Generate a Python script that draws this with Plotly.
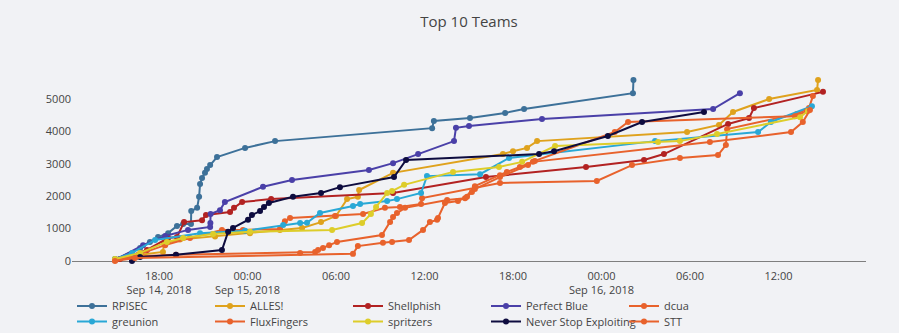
import plotly.graph_objects as go

teams = ["RPISEC", "ALLES!", "Shellphish", "Perfect Blue", "dcua",
         "greunion", "FluxFingers", "spritzers", "Never Stop Exploiting", "STT"]

colors = ["#3d7199", "#dfa21d", "#b22222", "#4a40a8", "#e8622c",
          "#29a8d6", "#e8622c", "#ddcd2a", "#0e0c3f", "#e8622c"]

rpisec_t = ["2018-09-14 15:01", "2018-09-14 16:43", "2018-09-14 17:23", "2018-09-14 17:56",
            "2018-09-14 18:37", "2018-09-14 19:13", "2018-09-14 19:38", "2018-09-14 20:10",
            "2018-09-14 20:11", "2018-09-14 20:35", "2018-09-14 20:43", "2018-09-14 20:47",
            "2018-09-14 20:55", "2018-09-14 21:07", "2018-09-14 21:15", "2018-09-14 21:28",
            "2018-09-14 21:56", "2018-09-14 23:50", "2018-09-15 01:52", "2018-09-15 12:31",
            "2018-09-15 12:38", "2018-09-15 15:05", "2018-09-15 17:28", "2018-09-15 18:45",
            "2018-09-16 02:08", "2018-09-16 02:10"]
rpisec_s = [50, 400, 590, 740, 860, 1080, 1140, 1140, 1540, 1640, 1980, 2380, 2560, 2720,
            2840, 2960, 3210, 3490, 3700, 4100, 4320, 4410, 4570, 4690, 5180, 5590]

alles_t = ["2018-09-14 15:01", "2018-09-14 16:43", "2018-09-14 18:16", "2018-09-14 18:20",
           "2018-09-14 19:25", "2018-09-14 21:48", "2018-09-15 00:10", "2018-09-15 02:12",
           "2018-09-15 03:42", "2018-09-15 04:59", "2018-09-15 06:00", "2018-09-15 06:45",
           "2018-09-15 07:29", "2018-09-15 07:34", "2018-09-15 09:52", "2018-09-15 17:19",
           "2018-09-15 18:00", "2018-09-15 18:57", "2018-09-15 19:38", "2018-09-16 05:48",
           "2018-09-16 07:58", "2018-09-16 08:55", "2018-09-16 11:22", "2018-09-16 14:37",
           "2018-09-16 14:41"]
alles_s = [60, 190, 280, 540, 660, 760, 860, 960, 1020, 1200, 1390, 1910, 1980, 2190, 2720,
           3300, 3390, 3490, 3700, 3980, 4200, 4600, 5000, 5280, 5590]

shell_t = ["2018-09-14 15:21", "2018-09-14 17:11", "2018-09-14 18:37", "2018-09-14 19:13",
           "2018-09-14 19:42", "2018-09-14 20:55", "2018-09-14 21:11", "2018-09-14 22:49",
           "2018-09-14 23:05", "2018-09-14 23:38", "2018-09-15 01:36", "2018-09-15 09:52",
           "2018-09-15 16:10", "2018-09-15 22:57", "2018-09-16 02:53", "2018-09-16 04:14",
           "2018-09-16 08:35", "2018-09-16 10:00", "2018-09-16 10:20", "2018-09-16 15:01"]
shell_s = [60, 340, 710, 740, 1200, 1260, 1420, 1510, 1640, 1820, 1910, 2100, 2590, 2900,
           3120, 3300, 4230, 4410, 4720, 5220]

pb_t = ["2018-09-14 15:01", "2018-09-14 16:55", "2018-09-14 18:25", "2018-09-14 19:58",
        "2018-09-14 21:28", "2018-09-14 21:29", "2018-09-14 21:30", "2018-09-14 22:08",
        "2018-09-14 22:28", "2018-09-15 01:03", "2018-09-15 03:01", "2018-09-15 08:14",
        "2018-09-15 09:52", "2018-09-15 11:34", "2018-09-15 14:00", "2018-09-15 14:08",
        "2018-09-15 15:01", "2018-09-15 19:58", "2018-09-16 07:34", "2018-09-16 09:23"]
pb_s = [30, 490, 770, 960, 1050, 1170, 1450, 1570, 1820, 2290, 2500, 2810, 3020, 3300,
        3700, 4110, 4170, 4380, 4690, 5180]

dcua_t = ["2018-09-14 15:01", "2018-09-14 16:43", "2018-09-14 18:25", "2018-09-14 20:06",
          "2018-09-14 22:16", "2018-09-14 23:41", "2018-09-15 02:12", "2018-09-15 02:32",
          "2018-09-15 02:53", "2018-09-15 05:56", "2018-09-15 07:50", "2018-09-15 09:19",
          "2018-09-15 10:20", "2018-09-15 11:46", "2018-09-15 11:50", "2018-09-15 17:07",
          "2018-09-15 23:41", "2018-09-16 02:04", "2018-09-16 05:19", "2018-09-16 07:54",
          "2018-09-16 08:26", "2018-09-16 08:31", "2018-09-16 13:15", "2018-09-16 14:04",
          "2018-09-16 14:20"]
dcua_s = [30, 220, 490, 710, 960, 960, 990, 1230, 1330, 1390, 1450, 1640, 1670, 1760, 1940,
          2410, 2470, 2960, 3180, 3270, 3580, 4070, 4540, 4720, 5090]

greu_t = ["2018-09-14 15:01", "2018-09-14 16:10", "2018-09-14 17:44", "2018-09-14 20:47",
          "2018-09-14 23:50", "2018-09-15 02:25", "2018-09-15 03:34", "2018-09-15 04:02",
          "2018-09-15 04:55", "2018-09-15 07:09", "2018-09-15 07:38", "2018-09-15 09:28",
          "2018-09-15 10:08", "2018-09-15 11:46", "2018-09-15 12:10", "2018-09-15 15:46",
          "2018-09-15 17:44", "2018-09-16 03:38", "2018-09-16 10:37", "2018-09-16 11:29",
          "2018-09-16 14:16"]
greu_s = [60, 250, 650, 860, 930, 1110, 1170, 1180, 1480, 1700, 1760, 1850, 1910, 2100,
          2620, 2680, 3180, 3700, 3980, 4290, 4780]

flux_t = ["2018-09-14 15:01", "2018-09-14 16:43", "2018-09-14 19:09", "2018-09-15 03:34",
          "2018-09-15 04:35", "2018-09-15 04:47", "2018-09-15 05:07", "2018-09-15 05:32",
          "2018-09-15 06:04", "2018-09-15 09:07", "2018-09-15 09:40", "2018-09-15 09:52",
          "2018-09-15 10:08", "2018-09-15 10:41", "2018-09-15 13:32", "2018-09-15 14:45",
          "2018-09-15 15:25", "2018-09-15 17:07", "2018-09-15 17:35", "2018-09-15 18:28",
          "2018-09-15 19:29", "2018-09-16 00:54", "2018-09-16 01:48", "2018-09-16 13:07",
          "2018-09-16 13:56"]
flux_s = [20, 150, 190, 250, 280, 340, 400, 490, 590, 800, 1200, 1360, 1480, 1640, 1880,
          1940, 2310, 2650, 2750, 2900, 3090, 3980, 4290, 4470, 4630]

spritz_t = ["2018-09-14 15:01", "2018-09-14 16:43", "2018-09-14 18:32", "2018-09-14 19:38",
            "2018-09-14 21:40", "2018-09-15 00:10", "2018-09-15 05:44", "2018-09-15 07:46",
            "2018-09-15 08:22", "2018-09-15 08:43", "2018-09-15 09:28", "2018-09-15 09:48",
            "2018-09-15 10:37", "2018-09-15 13:56", "2018-09-15 17:03", "2018-09-15 18:37",
            "2018-09-15 20:51", "2018-09-16 03:50", "2018-09-16 05:19", "2018-09-16 07:50",
            "2018-09-16 13:28", "2018-09-16 14:00"]
spritz_s = [60, 250, 590, 710, 830, 900, 960, 1170, 1450, 1670, 2100, 2160, 2350, 2750,
            2900, 3060, 3550, 3670, 3700, 3920, 4440, 4630]

nse_t = ["2018-09-14 16:10", "2018-09-14 16:43", "2018-09-14 19:09", "2018-09-14 22:16",
         "2018-09-14 22:41", "2018-09-14 23:01", "2018-09-15 00:02", "2018-09-15 00:18",
         "2018-09-15 00:51", "2018-09-15 01:07", "2018-09-15 01:27", "2018-09-15 03:05",
         "2018-09-15 04:59", "2018-09-15 06:16", "2018-09-15 09:56", "2018-09-15 10:45",
         "2018-09-15 19:46", "2018-09-15 20:47", "2018-09-16 00:26", "2018-09-16 02:45",
         "2018-09-16 06:57"]
nse_s = [0, 120, 190, 340, 900, 1020, 1270, 1420, 1540, 1670, 1790, 1980, 2100, 2280, 2590,
         3120, 3300, 3390, 3860, 4290, 4600]

stt_t = ["2018-09-14 15:01", "2018-09-14 16:22", "2018-09-15 07:09", "2018-09-15 07:29",
         "2018-09-15 09:11", "2018-09-15 09:48", "2018-09-15 10:57", "2018-09-15 11:54",
         "2018-09-15 12:22", "2018-09-15 12:51", "2018-09-15 12:55", "2018-09-15 13:23",
         "2018-09-15 14:16", "2018-09-15 14:53", "2018-09-15 15:13", "2018-09-15 15:25",
         "2018-09-15 17:07", "2018-09-15 19:01", "2018-09-15 19:21", "2018-09-16 07:21",
         "2018-09-16 12:51", "2018-09-16 13:39", "2018-09-16 14:08"]
stt_s = [0, 90, 220, 460, 560, 590, 650, 960, 1200, 1270, 1330, 1790, 1850, 1980, 2130,
         2220, 2590, 2960, 3060, 3670, 3980, 4290, 4660]

times = [rpisec_t, alles_t, shell_t, pb_t, dcua_t, greu_t, flux_t, spritz_t, nse_t, stt_t]
scores = [rpisec_s, alles_s, shell_s, pb_s, dcua_s, greu_s, flux_s, spritz_s, nse_s, stt_s]

y_ticks = [0, 1000, 2000, 3000, 4000, 5000]

fig = go.Figure()
for i, (name, col, t, s) in enumerate(zip(teams, colors, times, scores)):
    fig.add_trace(go.Scatter(x=t, y=s, name=name, mode="lines+markers",
                             line=dict(color=col, width=2),
                             marker=dict(color=col, size=6),
                             legend="legend" if i < 5 else "legend2"))

bg = "#f1f2f5"
leg_common = dict(orientation="h", x=0, xanchor="left", yref="container",
                  yanchor="middle", entrywidth=93, entrywidthmode="pixels",
                  bgcolor="rgba(0,0,0,0)", font=dict(size=11, color="#444"))
fig.update_layout(
    width=899, height=333,
    paper_bgcolor=bg, plot_bgcolor=bg,
    font=dict(family="Open Sans", size=11, color="#444"),
    title=dict(text="Top 10 Teams", x=0.5, xref="paper", xanchor="center",
               y=1 - 22 / 333, yref="container", yanchor="middle",
               font=dict(size=15, color="#444")),
    margin=dict(l=72, r=33, t=70, b=65, autoexpand=False),
    xaxis=dict(type="date", range=["2018-09-14 12:06", "2018-09-16 17:56"],
               dtick=6 * 3600 * 1000, tick0="2018-09-14 00:00",
               showgrid=False, zeroline=False, showline=False, ticks=""),
    yaxis=dict(range=[-216, 5895], tickvals=y_ticks, showgrid=False,
               zeroline=True, zerolinecolor="#7f7f7f", zerolinewidth=1,
               showline=False, ticks=""),
    legend=dict(y=1 - 306 / 333, **leg_common),
    legend2=dict(y=1 - 321.5 / 333, **leg_common),
    showlegend=True,
)

fig.write_html("out.html")
